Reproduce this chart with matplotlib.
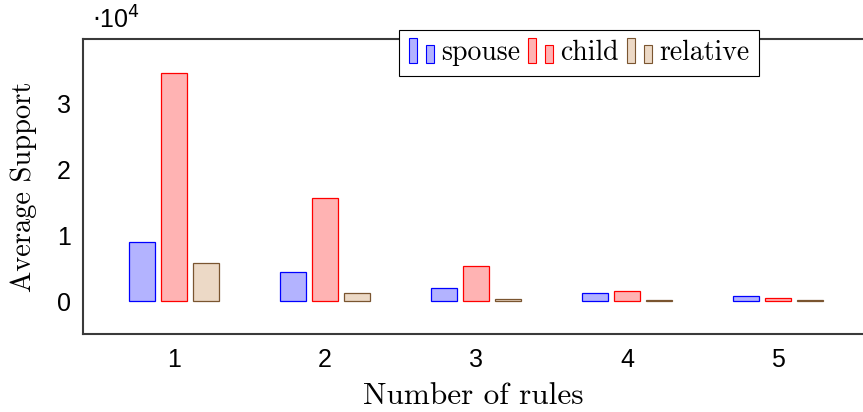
import matplotlib
matplotlib.use("Agg")
import matplotlib.pyplot as plt
import numpy as np
from matplotlib.patches import Rectangle
from matplotlib.legend_handler import HandlerBase

plt.rcParams['axes.formatter.use_mathtext'] = True

# ---- data ----
rules = [1, 2, 3, 4, 5]
series_names = ["spouse", "child", "relative"]
spouse = [8900, 4400, 2000, 1200, 700]
child = [34500, 15600, 5300, 1550, 400]
relative = [5800, 1200, 250, 100, 100]
tick_labels = ["1", "2", "3", "4", "5"]
ytick_vals = [0, 10000, 20000, 30000]
ytick_labels = ["0", "1", "2", "3"]

fills = ["#b3b3ff", "#ffb3b3", "#ecd9c6"]
edges = ["#0000ff", "#ff0000", "#7a5530"]

fig = plt.figure(figsize=(8.63, 4.12), dpi=100)
L, R = 83 / 863, 1.0
B, T = (412 - 334) / 412, (412 - 39) / 412
ax = fig.add_axes([L, B, R - L, T - B])

x = np.array(rules, dtype=float)
bw = 0.178
off = 0.212
handles = []
for i, vals in enumerate([spouse, child, relative]):
    b = ax.bar(x + (i - 1) * off, vals, width=bw, color=fills[i],
               edgecolor=edges[i], linewidth=0.9, label=series_names[i], zorder=3)
    handles.append(b.patches[0])

ax.set_xlim(0.397, 5.563)
ax.set_ylim(-5000, 39700)
ax.set_xticks(x)
ax.set_xticklabels(tick_labels, family="Liberation Sans", fontsize=18)
ax.set_yticks(ytick_vals)
ax.set_yticklabels(ytick_labels, family="Liberation Sans", fontsize=18)
ax.tick_params(axis="y", length=0, pad=9)
ax.tick_params(axis="x", length=0, pad=10)

for s in ["left", "top", "bottom"]:
    ax.spines[s].set_color("#3a3a3a")
    ax.spines[s].set_linewidth(1.5)
ax.spines["right"].set_visible(False)

ax.set_xlabel("Number of rules", family="cmr10", fontsize=22.5, labelpad=7)
ax.set_ylabel("Average Support", family="cmr10", fontsize=20.5, labelpad=14)
fig.text(92 / 863, (412 - 20) / 412, r"$\cdot$10$^4$", family="Liberation Sans",
         fontsize=18, va="center", ha="left")


class TwoBarHandler(HandlerBase):
    def create_artists(self, legend, orig_handle, xdescent, ydescent, width,
                       height, fontsize, trans):
        fc = orig_handle.get_facecolor()
        ec = orig_handle.get_edgecolor()
        w = width * 0.33
        x0 = -xdescent
        y0 = -ydescent - height * 0.15
        r1 = Rectangle((x0, y0), w, height * 1.3, facecolor=fc, edgecolor=ec,
                       linewidth=0.8, transform=trans)
        r2 = Rectangle((x0 + width - w, y0), w, height * 0.95, facecolor=fc,
                       edgecolor=ec, linewidth=0.8, transform=trans)
        return [r1, r2]


leg = ax.legend(handles, series_names, ncol=3, loc="center",
                bbox_to_anchor=((579 - 83) / 780, (334 - 53) / 295),
                handler_map={h: TwoBarHandler() for h in handles},
                prop={"family": "cmr10", "size": 20},
                handlelength=0.9, handletextpad=0.25, columnspacing=0.3,
                borderpad=0.35, frameon=True, fancybox=False, framealpha=1,
                edgecolor="black")
leg.get_frame().set_linewidth(0.8)
leg.set_zorder(10)

fig.savefig("out.png", dpi=100)
